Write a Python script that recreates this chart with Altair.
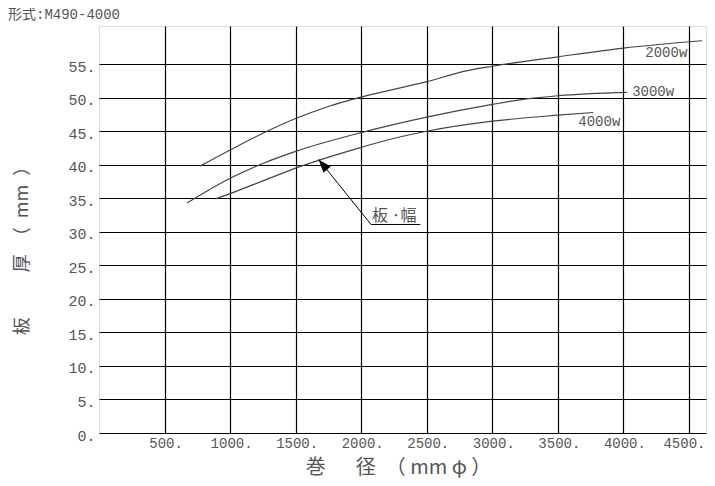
import altair as alt
import pandas as pd

# ---- data ----
x_2000 = [772, 1000, 1250, 1500, 1750, 2000, 2500, 2800, 3000, 3500, 4000, 4600]
y_2000 = [39.8, 42.2, 44.7, 46.9, 48.7, 50.1, 52.4, 54.0, 54.7, 56.1, 57.4, 58.5]

x_3000 = [671, 1000, 1250, 1500, 2000, 2500, 3000, 3250, 3500, 4027]
y_3000 = [34.3, 38.0, 40.2, 42.0, 44.8, 47.1, 49.0, 49.8, 50.3, 50.8]

x_4000 = [887, 1000, 1250, 1500, 2000, 2200, 2500, 3000, 3500, 3770]
y_4000 = [34.9, 35.7, 37.6, 39.5, 42.6, 43.7, 45.0, 46.5, 47.4, 47.8]

series_names = ["2000w", "3000w", "4000w"]
label_x = [4327, 4227, 3816]
label_y = [56.6, 50.8, 46.4]

x_ticks = [500, 1000, 1500, 2000, 2500, 3000, 3500, 4000, 4500]
y_ticks = [0, 5, 10, 15, 20, 25, 30, 35, 40, 45, 50, 55]
x_domain = [0, 4630]
y_domain = [0, 60.7]

# annotation "板 ·幅" with arrow
arrow_x = [2075, 1675]
arrow_y = [31.1, 40.8]
underline_x = [2075, 2451]
note_text = "板 ·幅"
header_text = "形式:M490-4000"

# ---- build tables ----
rows = []
for name, xs_, ys_ in zip(series_names, [x_2000, x_3000, x_4000], [y_2000, y_3000, y_4000]):
    for a, b in zip(xs_, ys_):
        rows.append({"x": a, "y": b, "series": name})
df_lines = pd.DataFrame(rows)
df_labels = pd.DataFrame({"x": label_x, "y": label_y, "t": series_names})
df_arrow = pd.DataFrame({"x": arrow_x, "y": arrow_y})
df_tip = pd.DataFrame({"x": [arrow_x[1]], "y": [arrow_y[1]]})
df_under = pd.DataFrame({"x": [underline_x[0]], "x2": [underline_x[1]], "y": [arrow_y[0]]})
df_note = pd.DataFrame({"x": [underline_x[0]], "y": [arrow_y[0]], "t": [note_text]})
df_head = pd.DataFrame({"t": [header_text]})

LABEL_FONT = "Liberation Mono"
GRAY = "#555555"

xs = alt.Scale(domain=x_domain, nice=False, zero=False)
ys = alt.Scale(domain=y_domain, nice=False, zero=False)

x_axis = alt.Axis(
    values=x_ticks, tickCount=20, grid=True, gridColor="black", gridWidth=1.2, gridOpacity=1,
    ticks=False, domain=False, labelExpr="datum.value + '.'",
    labelFont=LABEL_FONT, labelFontSize=14, labelColor=GRAY, labelPadding=3,
    labelOffset=alt.condition("datum.value == 4500", alt.value(-5), alt.value(1)),
    labelOverlap=False, labelFlush=False,
    title="巻\u3000\u2002径\u2002（ mm φ ）", titleFont="Noto Sans CJK JP",
    titleFontSize=20, titleFontWeight="normal", titleColor=GRAY,
    titleX=299, titleY=34, titleAlign="center", titleBaseline="middle",
)
y_axis = alt.Axis(
    values=y_ticks, tickCount=20, grid=True, gridColor="black", gridWidth=1.2, gridOpacity=1,
    ticks=False, domain=False, labelExpr="datum.value + '.'",
    labelFont=LABEL_FONT, labelFontSize=15, labelColor=GRAY, labelPadding=4,
    labelOffset=2, labelOverlap=False, labelFlush=False,
    title="板\u3000\u3000\u2002厚\u3000（\u2002mm\u2002）", titleFont="Noto Sans CJK JP",
    titleFontSize=18, titleFontWeight="normal", titleColor=GRAY,
    titleAngle=-90, titleX=-77, titleY=220, titleAlign="center", titleBaseline="middle",
)

lines = alt.Chart(df_lines).mark_line(color="#444444", strokeWidth=1.2, interpolate="monotone").encode(
    x=alt.X("x:Q", scale=xs, axis=x_axis),
    y=alt.Y("y:Q", scale=ys, axis=y_axis),
    detail="series:N",
)

labels = alt.Chart(df_labels).mark_text(
    font=LABEL_FONT, fontSize=14, color=GRAY, align="center", baseline="middle"
).encode(x=alt.X("x:Q", scale=xs), y=alt.Y("y:Q", scale=ys), text="t:N")

arrow = alt.Chart(df_arrow).mark_line(color="black", strokeWidth=1).encode(
    x=alt.X("x:Q", scale=xs), y=alt.Y("y:Q", scale=ys)
)

tip = alt.Chart(df_tip).mark_point(
    shape="M0,0L0.36,1L-0.36,1Z", size=700, filled=True, color="black", opacity=1,
    angle=320, strokeWidth=0,
).encode(x=alt.X("x:Q", scale=xs), y=alt.Y("y:Q", scale=ys))

under = alt.Chart(df_under).mark_rule(color="black", strokeWidth=1).encode(
    x=alt.X("x:Q", scale=xs), x2="x2:Q", y=alt.Y("y:Q", scale=ys)
)

note = alt.Chart(df_note).mark_text(
    font="Noto Sans CJK JP", fontSize=16, color=GRAY, align="left", baseline="alphabetic", dx=1, dy=-3
).encode(x=alt.X("x:Q", scale=xs), y=alt.Y("y:Q", scale=ys), text="t:N")

head = alt.Chart(df_head).mark_text(
    font="Liberation Mono, Noto Sans CJK JP", fontSize=14, color=GRAY, align="left", baseline="top"
).encode(x=alt.value(-91), y=alt.value(-18), text="t:N")

chart = alt.layer(lines, labels, arrow, tip, under, note, head).properties(
    width=607, height=407,
    autosize=alt.AutoSizeParams(type="none"),
    padding={"left": 91, "top": 18, "right": 1, "bottom": 45},
).configure_view(stroke="black", strokeWidth=1.2).configure(background="white")

chart.save("out.html", embed_options={"renderer": "svg", "actions": False})
